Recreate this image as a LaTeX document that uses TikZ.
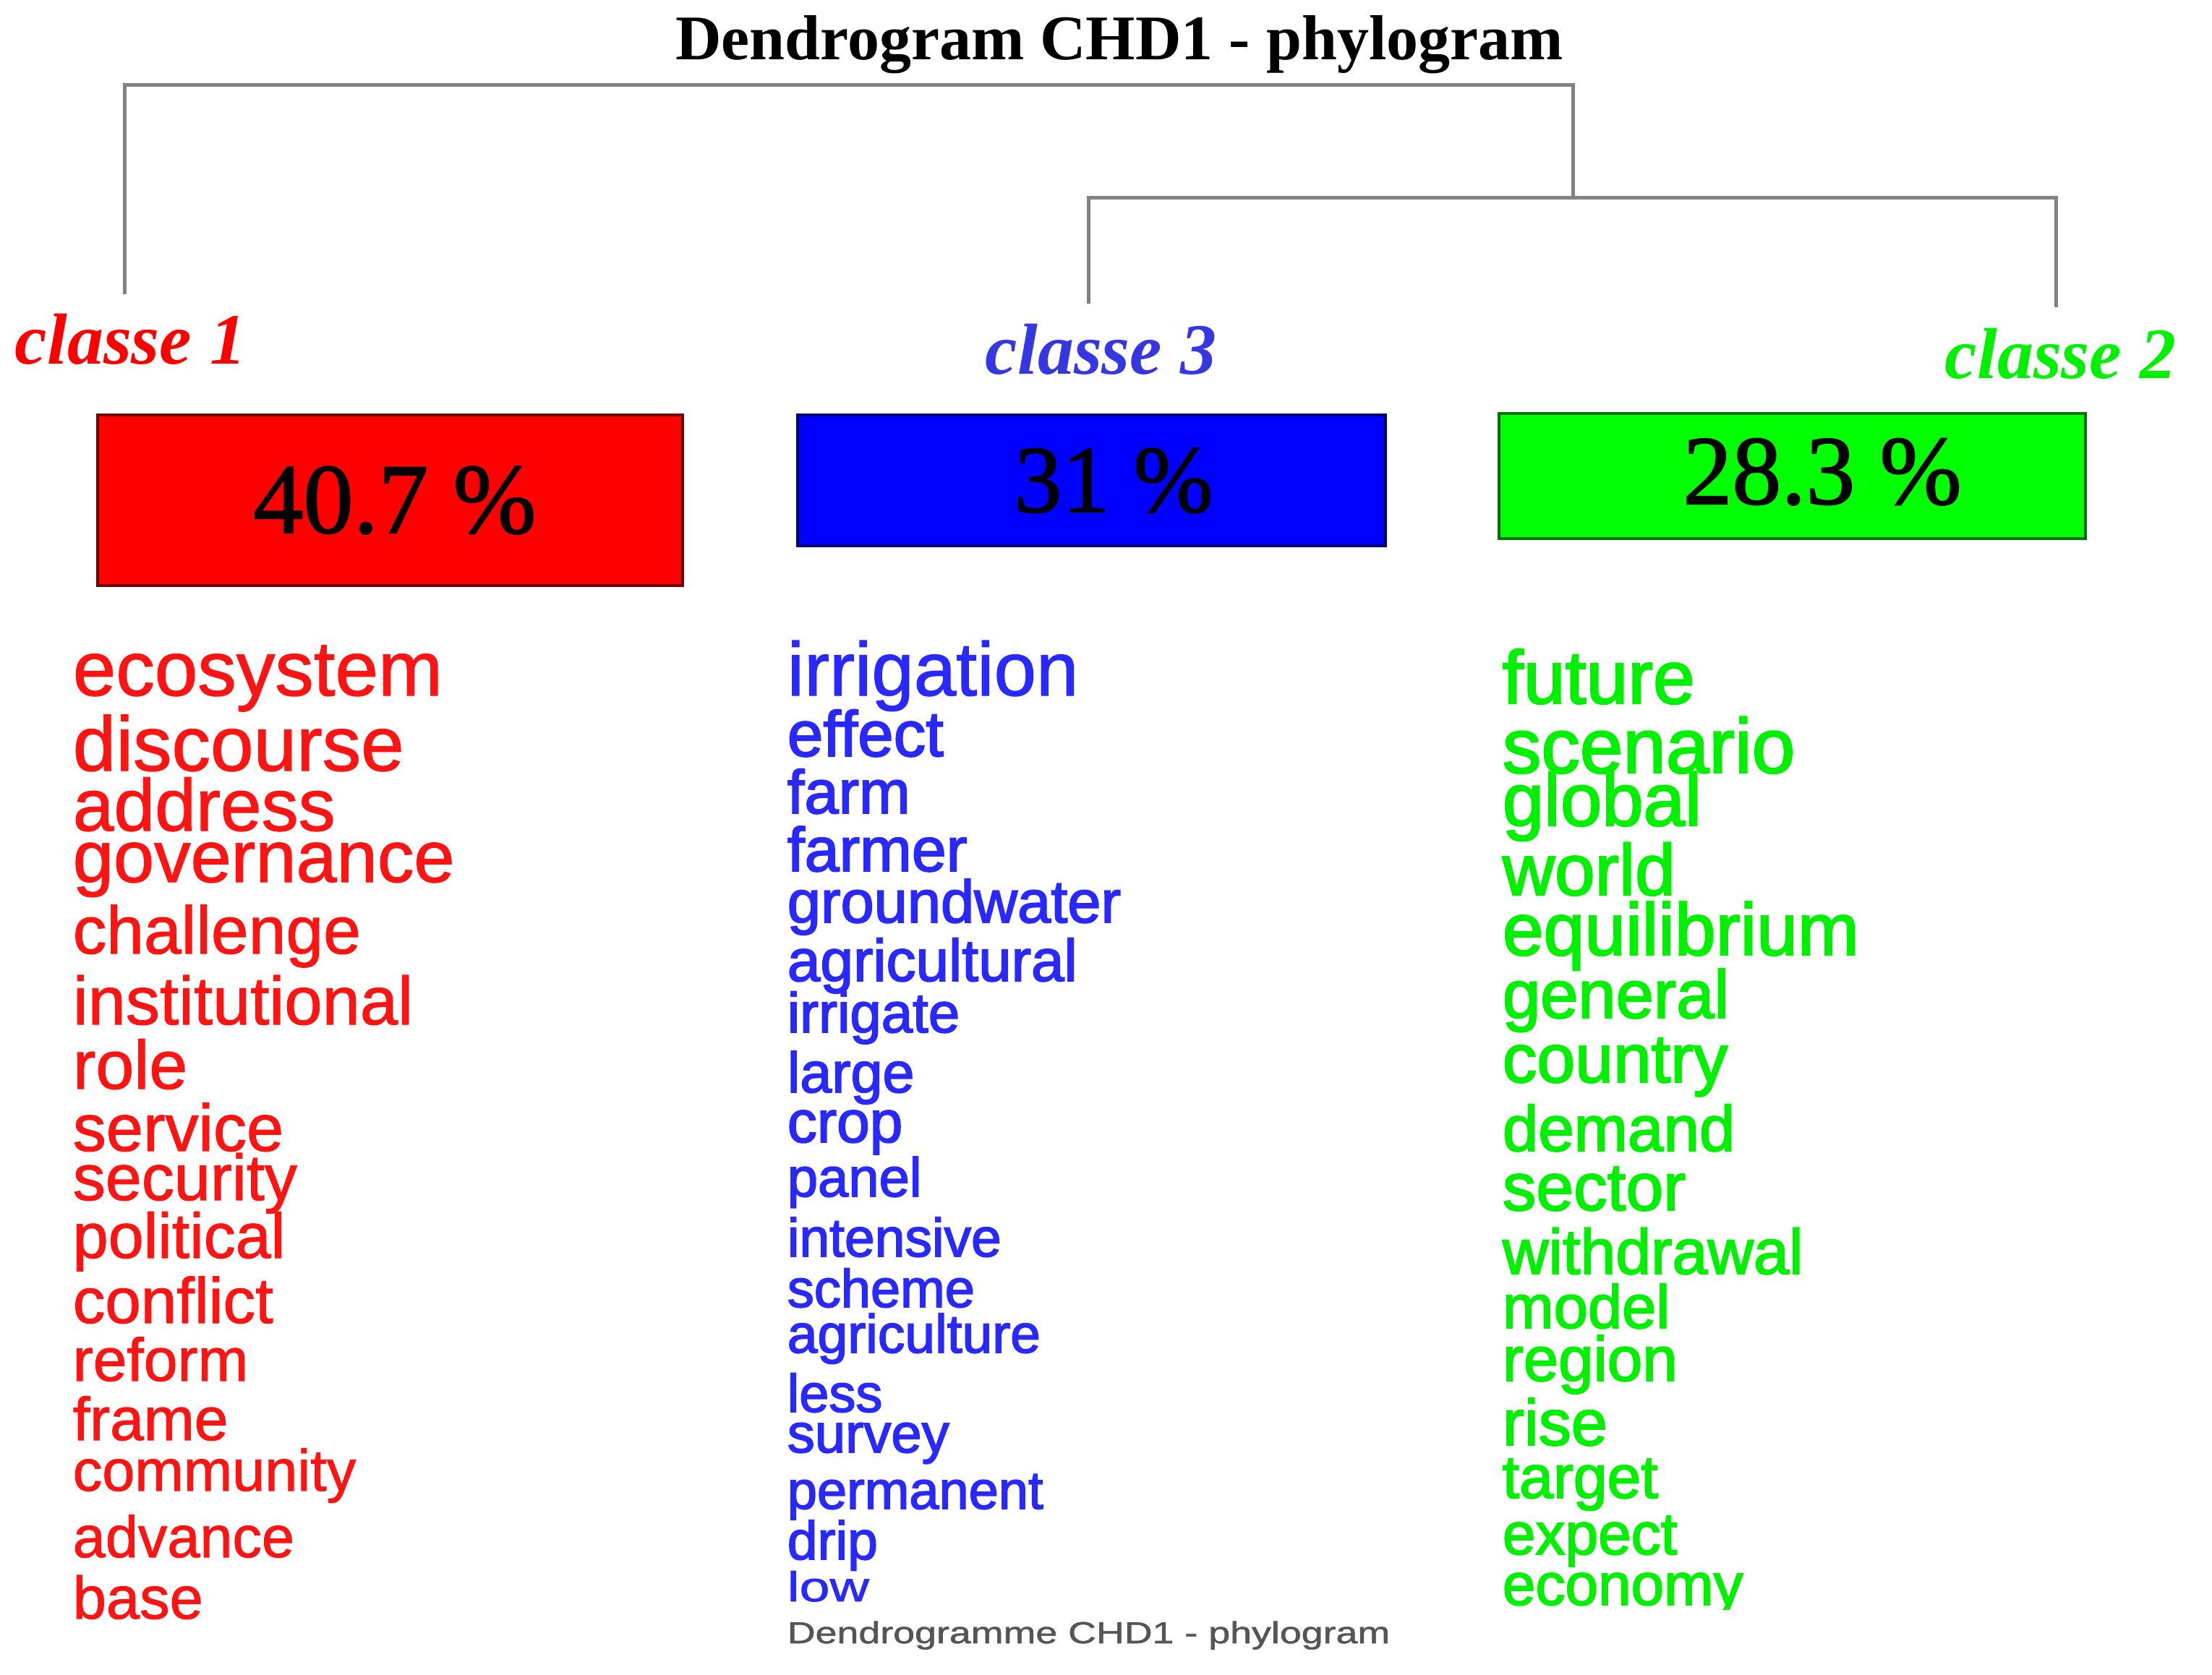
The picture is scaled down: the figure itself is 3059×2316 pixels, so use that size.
\documentclass[tikz,border=0pt]{standalone}
\usepackage{fontspec}
\setmainfont{Liberation Serif}
\newfontfamily\wordfont{Liberation Sans}[FakeBold=1.2]
\newfontfamily\heavyfont{Liberation Sans}[FakeBold=2.2]
\newfontfamily\pctfont{Liberation Serif}[FakeBold=1.5]
\definecolor{cRed}{RGB}{255,20,20}
\definecolor{cBlue}{RGB}{40,40,255}
\definecolor{cGreen}{RGB}{0,240,0}
\definecolor{cLabBlue}{RGB}{55,55,225}
\definecolor{dendroGray}{RGB}{130,130,130}
\definecolor{capGray}{RGB}{85,85,85}
\begin{document}
\begin{tikzpicture}[x=0.25pt,y=-0.25pt,
  word/.style={anchor=base west, inner sep=0pt, font=\wordfont\fontsize{#1}{#1}\selectfont},
  hword/.style={anchor=base west, inner sep=0pt, font=\heavyfont\fontsize{#1}{#1}\selectfont},
  classlab/.style={anchor=base west, inner sep=0pt, font=\bfseries\itshape\fontsize{25}{25}\selectfont},
  pct/.style={anchor=base, inner sep=0pt, font=\pctfont\fontsize{#1}{#1}\selectfont, text=black},
  pbox/.style={draw=#1!45!black, fill=#1, line width=1pt, anchor=north west, inner sep=0pt},
  dendro/.style={draw=dendroGray, line width=1.25pt, line join=miter}]
\useasboundingbox (0,0) rectangle (3059,2316);
\fill[white] (0,0) rectangle (3059,2316);

% title
\node[anchor=base, inner sep=0pt, font=\bfseries\fontsize{22}{22}\selectfont] (title) at (1548,82) {Dendrogram CHD1 - phylogram};

% dendrogram
\coordinate (n1) at (172,407);
\coordinate (n3) at (1505,420);
\coordinate (n2) at (2843,425);
\coordinate (root) at (2175,117);
\coordinate (j23) at (2175,273);
\draw[dendro] (n1) |- (root) -- (j23);
\draw[dendro] (n3) |- (n2 |- j23) -- (n2);

% class labels
\node[classlab, text=red] (c1) at (20,503) {classe 1};
\node[classlab, text=cLabBlue] (c3) at (1362,517) {classe 3};
\node[classlab, text=cGreen] (c2) at (2689,523) {classe 2};

% boxes
\node[pbox=red, minimum width=202.25pt, minimum height=59pt] (b1) at (133,572) {};
\node[pbox=blue, minimum width=203.25pt, minimum height=45.25pt] (b3) at (1101,572) {};
\node[pbox=green, minimum width=202.75pt, minimum height=43.25pt] (b2) at (2071,570) {};
\node[pct=34.5] (p1) at (546,737) {40.7 \%};
\node[pct=33] (p3) at (1540,708) {31 \%};
\node[pct=34] (p2) at (2520,697) {28.3 \%};

% class 1 words
\foreach \w/\y/\e [count=\i] in {ecosystem/962/107, discourse/1066/107, address/1149/102, governance/1220/101, challenge/1319/93, institutional/1417/94, role/1506/95, service/1592/92, security/1660/90, political/1740/88, conflict/1830/89, reform/1910/84, frame/1992/84, community/2062/81, advance/2154/81, base/2239/83} {
  \pgfmathsetmacro\fsz{\e/4}
  \node[word=\fsz, text=cRed] (r\i) at (100,\y) {\w};
}

% class 3 words
\node[word=26.25, text=cBlue] (t0) at (1088,962) {irrigation};
\foreach \w/\y/\e [count=\i] in {effect/1046/89, farm/1125/85, farmer/1205/86, groundwater/1276/83, agricultural/1357/82, irrigate/1428/78, large/1511/79, crop/1580/82, panel/1655/76, intensive/1738/75, scheme/1808/74, agriculture/1871/75, less/1953/74, survey/2009/76, permanent/2087/74, drip/2157/75} {
  \pgfmathsetmacro\fsz{\e/4}
  \node[hword=\fsz, text=cBlue] (t\i) at (1088,\y) {\w};
}
\node[word=14.5, text=cBlue] (tlow) at (1088,2215) {\scalebox{1.3}[1]{low}};

% class 2 words
\foreach \w/\y/\e [count=\i] in {future/973/104, scenario/1069/107, global/1142/103, world/1238/100, equilibrium/1321/102, general/1408/94, country/1497/95, demand/1592/89, sector/1674/93, withdrawal/1762/88, model/1837/85, region/1910/87, rise/1999/90, target/2072/84, expect/2150/82} {
  \pgfmathsetmacro\fsz{\e/4}
  \node[hword=\fsz, text=cGreen] (g\i) at (2077,\y) {\w};
}
\begin{scope}
  \clip (2000,2100) rectangle (2700,2226);
  \node[hword=20.5, text=cGreen] (geco) at (2077,2220) {economy};
\end{scope}

% caption
\node[word=10.5, text=capGray] (cap) at (1088,2273) {\scalebox{1.28}[1]{Dendrogramme CHD1 - phylogram}};
\end{tikzpicture}
\end{document}
